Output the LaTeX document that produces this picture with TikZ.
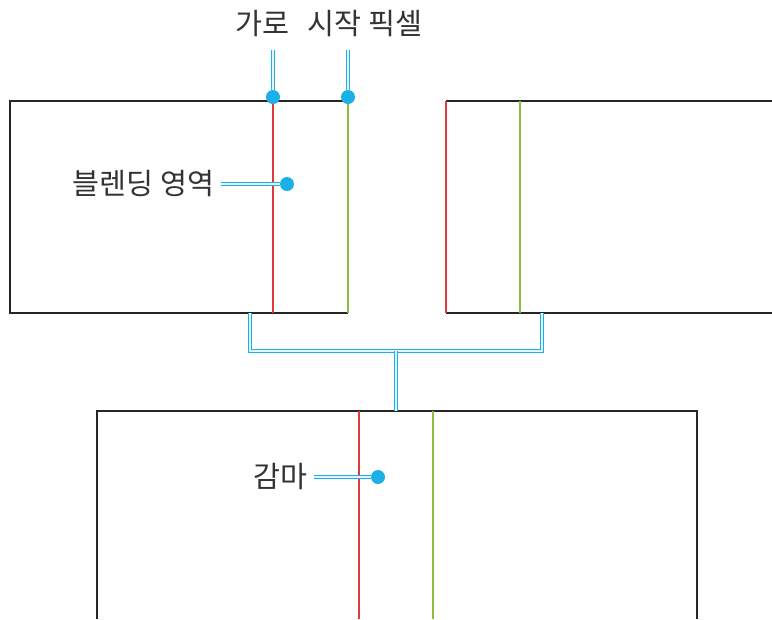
\documentclass[tikz,border=0pt]{standalone}
\usepackage{fontspec}
\newfontfamily\krfont{Noto Sans CJK KR}
\usepackage{xcolor}
\usepackage{tikz}
\usetikzlibrary{positioning, calc}

\definecolor{leadcyan}{HTML}{1BB0E8}
\definecolor{seamred}{HTML}{E0383C}
\definecolor{seamgreen}{HTML}{8CBF3F}
\definecolor{tagtext}{HTML}{333333}

\begin{document}
\begin{tikzpicture}[
    x=0.75pt, y=-0.75pt,
    boxedge/.style={draw=black!85, line width=1.4pt},
    redseam/.style={draw=seamred, line width=1.4pt},
    greenseam/.style={draw=seamgreen, line width=1.4pt},
    lead/.style={draw=leadcyan, double=leadcyan!12, double distance=1.1pt, line width=1.1pt},
    pindot/.style={circle, fill=leadcyan, inner sep=0pt, minimum size=10.5pt},
    tag/.style={font=\krfont\fontsize{22}{26}\selectfont, text=tagtext, inner sep=5pt}
]
    \useasboundingbox (0,0) rectangle (772,619);

    % Tile 1 (left): open right side, seams red / green
    \draw[boxedge] (348,101) -- (10,101) -- (10,313) -- (348,313);
    \draw[redseam] (273,101) -- (273,313);
    \draw[greenseam] (348,101) -- (348,313);

    % Tile 2 (right): runs off the page
    \draw[boxedge] (772,101) -- (446,101);
    \draw[boxedge] (446,313) -- (772,313);
    \draw[redseam] (446,101) -- (446,313);
    \draw[greenseam] (520,101) -- (520,313);

    % Merged tile (bottom)
    \draw[boxedge] (97,619) -- (97,411) -- (697,411) -- (697,619);
    \draw[redseam] (359,411) -- (359,619);
    \draw[greenseam] (433,411) -- (433,619);

    % Labels
    \node[tag] (startlbl) at (329,24) {가로\hspace{0.4em} 시작 픽셀};
    \node[tag, anchor=east] (blendlbl) at (221,184) {블렌딩 영역};
    \node[tag, anchor=east] (gammalbl) at (314,477) {감마};

    % Pins
    \node[pindot] (pinstart) at (273,97) {};
    \node[pindot] (pinend) at (348,97) {};
    \node[pindot] (pinblend) at (287,184) {};
    \node[pindot] (pingamma) at (378,477) {};

    % Leaders
    \coordinate (starttip) at (273,50);
    \coordinate (endtip) at (348,50);
    \draw[lead] (pinstart) -- (starttip);
    \draw[lead] (pinend) -- (endtip);
    \draw[lead] (blendlbl) -- (pinblend);
    \draw[lead] (gammalbl) -- (pingamma);

    % Bracket: both tiles into the merged tile
    \coordinate (leftfoot) at (250,313);
    \coordinate (rightfoot) at (542,313);
    \coordinate (joint) at (396,351);
    \coordinate (mergetop) at (396,411);
    \draw[lead] (leftfoot) |- (joint) -| (rightfoot);
    \draw[lead] (joint) -- (mergetop);
\end{tikzpicture}
\end{document}
